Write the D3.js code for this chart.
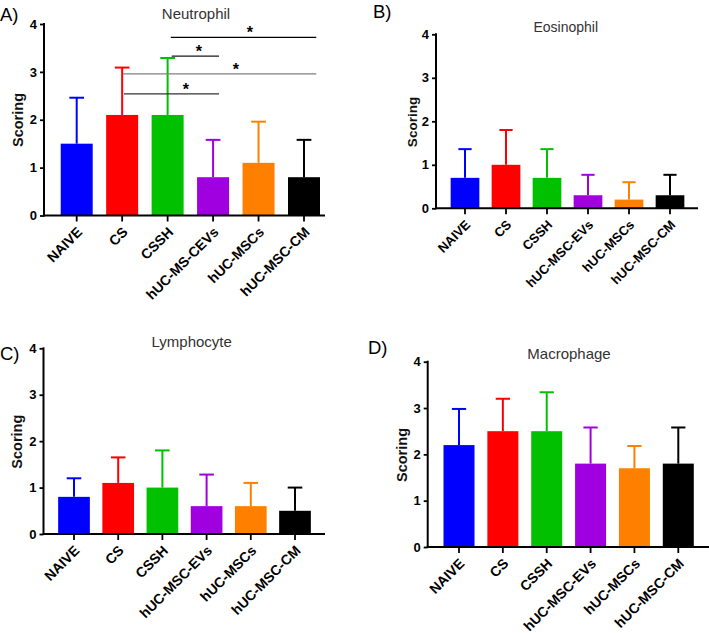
<!DOCTYPE html>
<html><head><meta charset="utf-8">
<script src="https://cdn.jsdelivr.net/npm/d3@7"></script>
<style>
html,body{margin:0;padding:0;background:#fff;}
svg{display:block;}
</style></head>
<body>
<svg id="chart" width="709" height="633"></svg>
<script>
// ---- data ----
const categoriesA = ["NAIVE","CS","CSSH","hUC-MS-CEVs","hUC-MSCs","hUC-MSC-CM"];
const categories  = ["NAIVE","CS","CSSH","hUC-MSC-EVs","hUC-MSCs","hUC-MSC-CM"];
const titles = ["Neutrophil","Eosinophil","Lymphocyte","Macrophage"];
const panelLabels = ["A)","B)","C)","D)"];
const yTicks = [0,1,2,3,4];
const yLabel = "Scoring";
const colors = ["#0000ff","#ff0000","#00c000","#a000e0","#ff8000","#000000"];

const neutrophilMean = [1.5, 2.1, 2.1, 0.8, 1.1, 0.8];
const neutrophilSD   = [0.96, 0.99, 1.19, 0.78, 0.86, 0.78];
const eosinophilMean = [0.7, 1.0, 0.7, 0.3, 0.2, 0.3];
const eosinophilSD   = [0.66, 0.8, 0.66, 0.47, 0.4, 0.47];
const lymphocyteMean = [0.8, 1.1, 1.0, 0.6, 0.6, 0.5];
const lymphocyteSD   = [0.4, 0.55, 0.8, 0.68, 0.5, 0.5];
const macrophageMean = [2.2, 2.5, 2.5, 1.8, 1.7, 1.8];
const macrophageSD   = [0.78, 0.7, 0.84, 0.78, 0.48, 0.78];

// significance brackets (Neutrophil): category-index positions and y value
const sigFrom  = [2.07, 2.09, 1.02, 1.04];
const sigTo    = [5.27, 3.13, 5.27, 3.13];
const sigStarAt= [3.81, 2.69, 3.50, 2.40];
const sigY     = [3.72, 3.33, 2.96, 2.54];
const sigColor = ["#000000", "#1a1a1a", "#808080", "#333333"];
const sigMark  = "*";

// ---- layout ----
const panels = [
  {cats: categoriesA, mean: neutrophilMean, sd: neutrophilSD, axisX: 44, y0: 215.5, y4: 24, first: 76.7, step: 45.46, barW: 32, axisEnd: 325, font: 14,
   title: {x: 196, y: 18.5, size: 15}, label: {x: 0, y: 21}, ylab: {x: 18, y: 120}, sig: true},
  {cats: categories, mean: eosinophilMean, sd: eosinophilSD, axisX: 436, y0: 208.3, y4: 34.3, first: 465, step: 41, barW: 28.7, axisEnd: 698, font: 13,
   title: {x: 565.7, y: 32.3, size: 14}, label: {x: 373, y: 17.5}, ylab: {x: 412, y: 122}},
  {cats: categories, mean: lymphocyteMean, sd: lymphocyteSD, axisX: 43.5, y0: 534, y4: 348.3, first: 74, step: 44.2, barW: 31.7, axisEnd: 325, font: 14,
   title: {x: 191.7, y: 347, size: 15}, label: {x: 0, y: 360}, ylab: {x: 17.3, y: 441.7}},
  {cats: categories, mean: macrophageMean, sd: macrophageSD, axisX: 427.7, y0: 547, y4: 361.7, first: 459, step: 43.86, barW: 31, axisEnd: 712, font: 14,
   title: {x: 569, y: 359, size: 15}, label: {x: 368, y: 354}, ylab: {x: 401.7, y: 455}}
];

const svg = d3.select("#chart");
const FONT = "'Liberation Sans', Arial, Helvetica, sans-serif";

panels.forEach((p, pi) => {
  const g = svg.append("g");
  const start = p.first - p.step/2;
  const x = d3.scaleBand().domain(p.cats).range([start, start + p.step*p.cats.length])
    .paddingInner(1 - p.barW/p.step).paddingOuter((1 - p.barW/p.step)/2);
  const y = d3.scaleLinear().domain([0, 4]).range([p.y0, p.y4]);
  const cx = i => x(p.cats[0]) + x.bandwidth()/2 + i*x.step();

  // bars
  g.selectAll("rect.bar").data(p.mean).join("rect")
    .attr("x", (d,i) => x(p.cats[i]))
    .attr("y", d => y(d))
    .attr("width", x.bandwidth())
    .attr("height", d => y(0) - y(d))
    .attr("fill", (d,i) => colors[i]);

  // error bars (upper only)
  const capHalf = x.bandwidth()*0.23;
  p.mean.forEach((m, i) => {
    const c = x(p.cats[i]) + x.bandwidth()/2;
    const top = y(m + p.sd[i]);
    g.append("line").attr("x1", c).attr("x2", c).attr("y1", y(m)).attr("y2", top)
      .attr("stroke", colors[i]).attr("stroke-width", 2);
    g.append("line").attr("x1", c - capHalf).attr("x2", c + capHalf).attr("y1", top).attr("y2", top)
      .attr("stroke", colors[i]).attr("stroke-width", 2);
  });

  // y axis
  const yAxis = d3.axisLeft(y).tickValues(yTicks).tickSize(4).tickPadding(3).tickFormat(d3.format("d"));
  const ya = g.append("g").attr("transform", `translate(${p.axisX},0)`).call(yAxis);
  ya.select(".domain").remove();
  ya.selectAll(".tick line").attr("stroke", "#000").attr("stroke-width", 1.8);
  ya.selectAll(".tick text").attr("font-family", FONT).attr("font-weight", "bold")
    .attr("font-size", 13).attr("fill", "#000");
  g.append("line").attr("x1", p.axisX).attr("x2", p.axisX).attr("y1", y(4) - 1).attr("y2", p.y0 + 1)
    .attr("stroke", "#000").attr("stroke-width", 2);

  // x axis
  const xAxis = d3.axisBottom(x).tickSize(6).tickFormat("");
  const xa = g.append("g").attr("transform", `translate(0,${p.y0})`).call(xAxis);
  xa.select(".domain").remove();
  xa.selectAll(".tick line").attr("stroke", "#000").attr("stroke-width", 1.8);
  g.append("line").attr("x1", p.axisX - 1).attr("x2", p.axisEnd).attr("y1", p.y0).attr("y2", p.y0)
    .attr("stroke", "#000").attr("stroke-width", 2);

  // x tick labels rotated
  p.cats.forEach((c, i) => {
    const tx = x(c) + x.bandwidth()/2 + 3;
    const ty = p.y0 + 14;
    g.append("text").text(c)
      .attr("transform", `translate(${tx},${ty}) rotate(-45)`)
      .attr("text-anchor", "end").attr("dy", "0.35em")
      .attr("font-family", FONT).attr("font-weight", "bold").attr("font-size", p.font)
      .attr("fill", "#000");
  });

  // y label
  g.append("text").text(yLabel)
    .attr("transform", `translate(${p.ylab.x},${p.ylab.y}) rotate(-90)`)
    .attr("text-anchor", "middle").attr("dy", "0.35em")
    .attr("font-family", FONT).attr("font-weight", "bold").attr("font-size", pi === 1 ? 13.5 : 14.5)
    .attr("fill", "#111");

  // title
  g.append("text").text(titles[pi])
    .attr("x", p.title.x).attr("y", p.title.y).attr("text-anchor", "middle")
    .attr("font-family", FONT).attr("font-size", p.title.size).attr("fill", "#333");

  // panel label
  g.append("text").text(panelLabels[pi])
    .attr("x", p.label.x).attr("y", p.label.y)
    .attr("font-family", FONT).attr("font-size", 18.5).attr("fill", "#000");

  // significance
  if (p.sig) {
    sigY.forEach((sy, k) => {
      g.append("line").attr("x1", cx(sigFrom[k])).attr("x2", cx(sigTo[k]))
        .attr("y1", y(sy)).attr("y2", y(sy))
        .attr("stroke", sigColor[k]).attr("stroke-width", 1.3);
      g.append("text").text(sigMark)
        .attr("x", cx(sigStarAt[k])).attr("y", y(sy) + 1)
        .attr("text-anchor", "middle")
        .attr("font-family", FONT).attr("font-weight", "bold").attr("font-size", 16).attr("fill", "#000");
    });
  }
});
</script>
</body></html>
